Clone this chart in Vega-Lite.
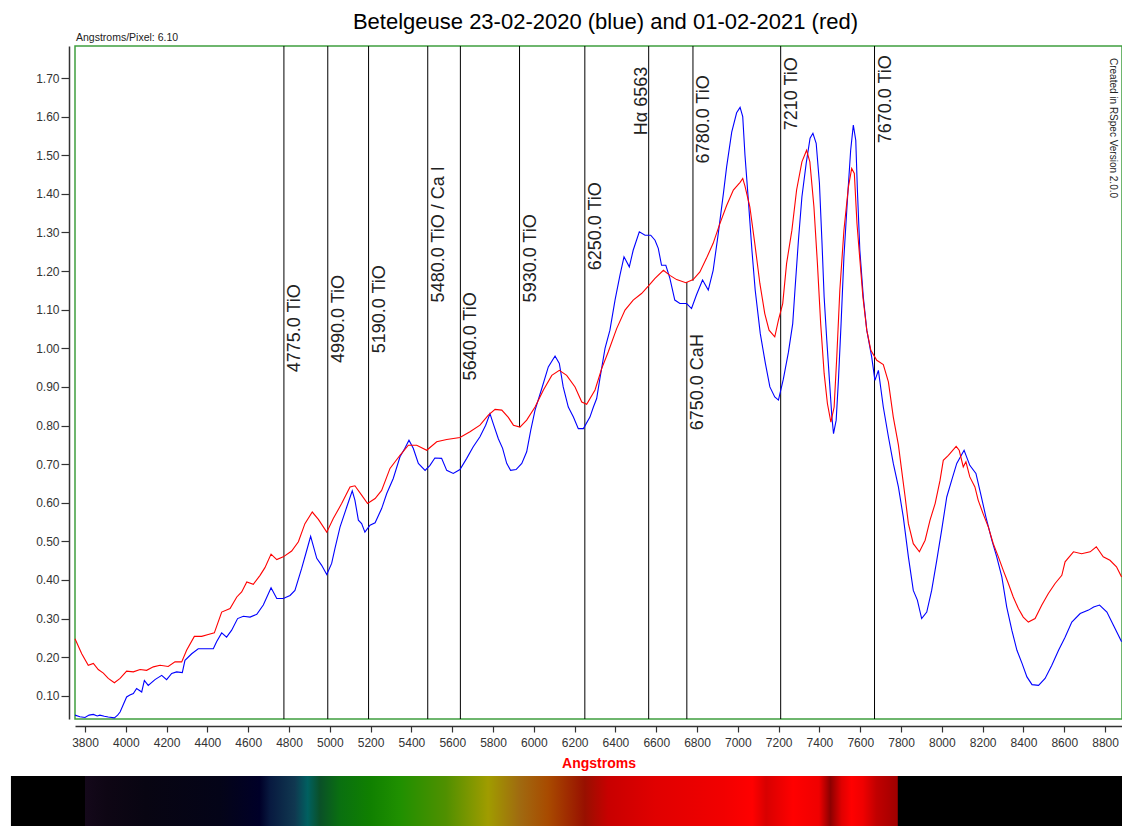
{
  "$schema": "https://vega.github.io/schema/vega-lite/v6.json",
  "width": 1047,
  "height": 673,
  "autosize": {"type": "none"},
  "padding": {"left": 75, "top": 46, "right": 0, "bottom": 107},
  "background": "white",
  "title": {"text": "Betelgeuse 23-02-2020 (blue) and 01-02-2021 (red)", "font": "Liberation Sans", "fontSize": 22, "fontWeight": "normal", "color": "#000000", "anchor": "middle", "baseline": "alphabetic", "offset": 7, "dx": 7, "dy": 25},
  "config": {
    "view": {"stroke": "#3f9f3f", "strokeWidth": 1.5},
    "axis": {"grid": false, "labelFont": "Liberation Sans", "titleFont": "Liberation Sans", "labelColor": "#333333", "tickColor": "#333333", "domainColor": "#333333", "domainWidth": 1.5, "tickWidth": 1.2},
    "axisX": {"offset": 7, "tickSize": 6, "labelFontSize": 12, "labelPadding": 5, "titleColor": "#ff0000", "titleFontWeight": "bold", "titleFontSize": 14, "titlePadding": 8},
    "axisY": {"offset": 6, "tickSize": 8, "labelFontSize": 12, "labelPadding": 2}
  },
  "datasets": {
    "spec": [
      {"s":"2020","w":3751,"v":0.050},{"s":"2020","w":3775,"v":0.046},{"s":"2020","w":3800,"v":0.044},{"s":"2020","w":3820,"v":0.050},{"s":"2020","w":3841,"v":0.052},{"s":"2020","w":3860,"v":0.048},{"s":"2020","w":3873,"v":0.050},{"s":"2020","w":3895,"v":0.047},{"s":"2020","w":3914,"v":0.045},{"s":"2020","w":3944,"v":0.043},{"s":"2020","w":3960,"v":0.050},{"s":"2020","w":3972,"v":0.058},{"s":"2020","w":3990,"v":0.080},{"s":"2020","w":4004,"v":0.097},{"s":"2020","w":4020,"v":0.102},{"s":"2020","w":4037,"v":0.106},{"s":"2020","w":4053,"v":0.119},{"s":"2020","w":4078,"v":0.110},{"s":"2020","w":4091,"v":0.140},{"s":"2020","w":4110,"v":0.127},{"s":"2020","w":4143,"v":0.142},{"s":"2020","w":4176,"v":0.153},{"s":"2020","w":4200,"v":0.142},{"s":"2020","w":4225,"v":0.158},{"s":"2020","w":4249,"v":0.162},{"s":"2020","w":4277,"v":0.160},{"s":"2020","w":4290,"v":0.192},{"s":"2020","w":4323,"v":0.209},{"s":"2020","w":4355,"v":0.222},{"s":"2020","w":4388,"v":0.222},{"s":"2020","w":4429,"v":0.222},{"s":"2020","w":4445,"v":0.240},{"s":"2020","w":4470,"v":0.263},{"s":"2020","w":4494,"v":0.252},{"s":"2020","w":4519,"v":0.270},{"s":"2020","w":4548,"v":0.300},{"s":"2020","w":4576,"v":0.306},{"s":"2020","w":4609,"v":0.304},{"s":"2020","w":4642,"v":0.311},{"s":"2020","w":4674,"v":0.335},{"s":"2020","w":4712,"v":0.380},{"s":"2020","w":4740,"v":0.352},{"s":"2020","w":4772,"v":0.352},{"s":"2020","w":4805,"v":0.360},{"s":"2020","w":4829,"v":0.373},{"s":"2020","w":4862,"v":0.430},{"s":"2020","w":4887,"v":0.477},{"s":"2020","w":4906,"v":0.513},{"s":"2020","w":4936,"v":0.456},{"s":"2020","w":4960,"v":0.438},{"s":"2020","w":4985,"v":0.414},{"s":"2020","w":5009,"v":0.443},{"s":"2020","w":5025,"v":0.481},{"s":"2020","w":5050,"v":0.537},{"s":"2020","w":5083,"v":0.589},{"s":"2020","w":5110,"v":0.631},{"s":"2020","w":5123,"v":0.607},{"s":"2020","w":5140,"v":0.555},{"s":"2020","w":5156,"v":0.546},{"s":"2020","w":5172,"v":0.524},{"s":"2020","w":5197,"v":0.542},{"s":"2020","w":5222,"v":0.548},{"s":"2020","w":5254,"v":0.585},{"s":"2020","w":5279,"v":0.624},{"s":"2020","w":5311,"v":0.663},{"s":"2020","w":5344,"v":0.719},{"s":"2020","w":5368,"v":0.741},{"s":"2020","w":5388,"v":0.762},{"s":"2020","w":5409,"v":0.741},{"s":"2020","w":5434,"v":0.702},{"s":"2020","w":5467,"v":0.684},{"s":"2020","w":5491,"v":0.697},{"s":"2020","w":5515,"v":0.716},{"s":"2020","w":5548,"v":0.715},{"s":"2020","w":5573,"v":0.684},{"s":"2020","w":5605,"v":0.676},{"s":"2020","w":5638,"v":0.686},{"s":"2020","w":5671,"v":0.715},{"s":"2020","w":5703,"v":0.745},{"s":"2020","w":5736,"v":0.771},{"s":"2020","w":5764,"v":0.801},{"s":"2020","w":5785,"v":0.831},{"s":"2020","w":5801,"v":0.805},{"s":"2020","w":5826,"v":0.766},{"s":"2020","w":5847,"v":0.741},{"s":"2020","w":5867,"v":0.702},{"s":"2020","w":5886,"v":0.684},{"s":"2020","w":5913,"v":0.686},{"s":"2020","w":5941,"v":0.702},{"s":"2020","w":5965,"v":0.732},{"s":"2020","w":5985,"v":0.788},{"s":"2020","w":6006,"v":0.840},{"s":"2020","w":6039,"v":0.896},{"s":"2020","w":6071,"v":0.952},{"s":"2020","w":6104,"v":0.980},{"s":"2020","w":6125,"v":0.961},{"s":"2020","w":6144,"v":0.900},{"s":"2020","w":6169,"v":0.848},{"s":"2020","w":6194,"v":0.822},{"s":"2020","w":6218,"v":0.792},{"s":"2020","w":6243,"v":0.792},{"s":"2020","w":6275,"v":0.822},{"s":"2020","w":6292,"v":0.848},{"s":"2020","w":6308,"v":0.870},{"s":"2020","w":6324,"v":0.922},{"s":"2020","w":6349,"v":1.000},{"s":"2020","w":6373,"v":1.047},{"s":"2020","w":6398,"v":1.125},{"s":"2020","w":6422,"v":1.189},{"s":"2020","w":6442,"v":1.237},{"s":"2020","w":6468,"v":1.211},{"s":"2020","w":6487,"v":1.254},{"s":"2020","w":6517,"v":1.302},{"s":"2020","w":6545,"v":1.293},{"s":"2020","w":6573,"v":1.293},{"s":"2020","w":6594,"v":1.280},{"s":"2020","w":6610,"v":1.259},{"s":"2020","w":6626,"v":1.215},{"s":"2020","w":6647,"v":1.215},{"s":"2020","w":6667,"v":1.181},{"s":"2020","w":6691,"v":1.125},{"s":"2020","w":6716,"v":1.116},{"s":"2020","w":6749,"v":1.116},{"s":"2020","w":6773,"v":1.103},{"s":"2020","w":6797,"v":1.138},{"s":"2020","w":6827,"v":1.177},{"s":"2020","w":6855,"v":1.151},{"s":"2020","w":6879,"v":1.202},{"s":"2020","w":6904,"v":1.297},{"s":"2020","w":6929,"v":1.400},{"s":"2020","w":6945,"v":1.470},{"s":"2020","w":6970,"v":1.560},{"s":"2020","w":6994,"v":1.610},{"s":"2020","w":7011,"v":1.624},{"s":"2020","w":7024,"v":1.600},{"s":"2020","w":7035,"v":1.500},{"s":"2020","w":7052,"v":1.380},{"s":"2020","w":7069,"v":1.254},{"s":"2020","w":7085,"v":1.151},{"s":"2020","w":7110,"v":1.038},{"s":"2020","w":7135,"v":0.961},{"s":"2020","w":7157,"v":0.900},{"s":"2020","w":7181,"v":0.874},{"s":"2020","w":7199,"v":0.866},{"s":"2020","w":7223,"v":0.920},{"s":"2020","w":7248,"v":0.990},{"s":"2020","w":7269,"v":1.064},{"s":"2020","w":7280,"v":1.151},{"s":"2020","w":7297,"v":1.280},{"s":"2020","w":7314,"v":1.392},{"s":"2020","w":7335,"v":1.479},{"s":"2020","w":7354,"v":1.544},{"s":"2020","w":7368,"v":1.557},{"s":"2020","w":7384,"v":1.531},{"s":"2020","w":7400,"v":1.427},{"s":"2020","w":7412,"v":1.280},{"s":"2020","w":7423,"v":1.133},{"s":"2020","w":7436,"v":1.021},{"s":"2020","w":7449,"v":0.917},{"s":"2020","w":7461,"v":0.822},{"s":"2020","w":7469,"v":0.779},{"s":"2020","w":7482,"v":0.814},{"s":"2020","w":7493,"v":0.917},{"s":"2020","w":7506,"v":1.064},{"s":"2020","w":7520,"v":1.237},{"s":"2020","w":7537,"v":1.384},{"s":"2020","w":7553,"v":1.513},{"s":"2020","w":7566,"v":1.578},{"s":"2020","w":7578,"v":1.539},{"s":"2020","w":7586,"v":1.410},{"s":"2020","w":7598,"v":1.254},{"s":"2020","w":7615,"v":1.133},{"s":"2020","w":7632,"v":1.047},{"s":"2020","w":7656,"v":0.978},{"s":"2020","w":7672,"v":0.917},{"s":"2020","w":7689,"v":0.943},{"s":"2020","w":7713,"v":0.848},{"s":"2020","w":7738,"v":0.771},{"s":"2020","w":7762,"v":0.702},{"s":"2020","w":7787,"v":0.641},{"s":"2020","w":7811,"v":0.563},{"s":"2020","w":7836,"v":0.460},{"s":"2020","w":7860,"v":0.373},{"s":"2020","w":7880,"v":0.348},{"s":"2020","w":7901,"v":0.300},{"s":"2020","w":7926,"v":0.317},{"s":"2020","w":7950,"v":0.373},{"s":"2020","w":7975,"v":0.451},{"s":"2020","w":7999,"v":0.529},{"s":"2020","w":8024,"v":0.615},{"s":"2020","w":8048,"v":0.658},{"s":"2020","w":8073,"v":0.702},{"s":"2020","w":8109,"v":0.736},{"s":"2020","w":8137,"v":0.697},{"s":"2020","w":8167,"v":0.676},{"s":"2020","w":8190,"v":0.624},{"s":"2020","w":8216,"v":0.563},{"s":"2020","w":8245,"v":0.503},{"s":"2020","w":8269,"v":0.460},{"s":"2020","w":8294,"v":0.408},{"s":"2020","w":8318,"v":0.330},{"s":"2020","w":8343,"v":0.270},{"s":"2020","w":8368,"v":0.218},{"s":"2020","w":8393,"v":0.184},{"s":"2020","w":8417,"v":0.149},{"s":"2020","w":8442,"v":0.129},{"s":"2020","w":8474,"v":0.127},{"s":"2020","w":8506,"v":0.145},{"s":"2020","w":8539,"v":0.179},{"s":"2020","w":8572,"v":0.218},{"s":"2020","w":8604,"v":0.252},{"s":"2020","w":8637,"v":0.291},{"s":"2020","w":8678,"v":0.313},{"s":"2020","w":8719,"v":0.322},{"s":"2020","w":8744,"v":0.330},{"s":"2020","w":8773,"v":0.335},{"s":"2020","w":8809,"v":0.317},{"s":"2020","w":8841,"v":0.283},{"s":"2020","w":8881,"v":0.240},
      {"s":"2021","w":3751,"v":0.248},{"s":"2021","w":3784,"v":0.209},{"s":"2021","w":3816,"v":0.179},{"s":"2021","w":3841,"v":0.184},{"s":"2021","w":3865,"v":0.168},{"s":"2021","w":3890,"v":0.159},{"s":"2021","w":3914,"v":0.145},{"s":"2021","w":3944,"v":0.134},{"s":"2021","w":3972,"v":0.145},{"s":"2021","w":4004,"v":0.164},{"s":"2021","w":4037,"v":0.162},{"s":"2021","w":4070,"v":0.168},{"s":"2021","w":4102,"v":0.166},{"s":"2021","w":4135,"v":0.175},{"s":"2021","w":4168,"v":0.179},{"s":"2021","w":4208,"v":0.176},{"s":"2021","w":4241,"v":0.188},{"s":"2021","w":4274,"v":0.188},{"s":"2021","w":4298,"v":0.218},{"s":"2021","w":4336,"v":0.254},{"s":"2021","w":4372,"v":0.254},{"s":"2021","w":4404,"v":0.259},{"s":"2021","w":4434,"v":0.263},{"s":"2021","w":4470,"v":0.317},{"s":"2021","w":4511,"v":0.326},{"s":"2021","w":4544,"v":0.356},{"s":"2021","w":4568,"v":0.369},{"s":"2021","w":4593,"v":0.395},{"s":"2021","w":4625,"v":0.389},{"s":"2021","w":4658,"v":0.412},{"s":"2021","w":4682,"v":0.432},{"s":"2021","w":4712,"v":0.467},{"s":"2021","w":4740,"v":0.453},{"s":"2021","w":4772,"v":0.460},{"s":"2021","w":4813,"v":0.475},{"s":"2021","w":4846,"v":0.499},{"s":"2021","w":4878,"v":0.546},{"s":"2021","w":4914,"v":0.576},{"s":"2021","w":4944,"v":0.557},{"s":"2021","w":4985,"v":0.524},{"s":"2021","w":5017,"v":0.559},{"s":"2021","w":5058,"v":0.598},{"s":"2021","w":5099,"v":0.641},{"s":"2021","w":5123,"v":0.644},{"s":"2021","w":5156,"v":0.620},{"s":"2021","w":5185,"v":0.598},{"s":"2021","w":5222,"v":0.611},{"s":"2021","w":5254,"v":0.632},{"s":"2021","w":5295,"v":0.689},{"s":"2021","w":5344,"v":0.723},{"s":"2021","w":5385,"v":0.749},{"s":"2021","w":5426,"v":0.749},{"s":"2021","w":5475,"v":0.736},{"s":"2021","w":5524,"v":0.758},{"s":"2021","w":5573,"v":0.764},{"s":"2021","w":5638,"v":0.769},{"s":"2021","w":5687,"v":0.784},{"s":"2021","w":5736,"v":0.801},{"s":"2021","w":5777,"v":0.827},{"s":"2021","w":5810,"v":0.842},{"s":"2021","w":5843,"v":0.840},{"s":"2021","w":5875,"v":0.821},{"s":"2021","w":5900,"v":0.801},{"s":"2021","w":5932,"v":0.796},{"s":"2021","w":5965,"v":0.814},{"s":"2021","w":6006,"v":0.848},{"s":"2021","w":6047,"v":0.892},{"s":"2021","w":6088,"v":0.930},{"s":"2021","w":6125,"v":0.943},{"s":"2021","w":6161,"v":0.930},{"s":"2021","w":6202,"v":0.900},{"s":"2021","w":6235,"v":0.861},{"s":"2021","w":6259,"v":0.855},{"s":"2021","w":6300,"v":0.892},{"s":"2021","w":6333,"v":0.948},{"s":"2021","w":6365,"v":0.991},{"s":"2021","w":6406,"v":1.051},{"s":"2021","w":6447,"v":1.099},{"s":"2021","w":6487,"v":1.125},{"s":"2021","w":6528,"v":1.142},{"s":"2021","w":6561,"v":1.161},{"s":"2021","w":6594,"v":1.181},{"s":"2021","w":6635,"v":1.202},{"s":"2021","w":6667,"v":1.189},{"s":"2021","w":6700,"v":1.178},{"s":"2021","w":6745,"v":1.170},{"s":"2021","w":6781,"v":1.178},{"s":"2021","w":6814,"v":1.198},{"s":"2021","w":6846,"v":1.233},{"s":"2021","w":6879,"v":1.272},{"s":"2021","w":6912,"v":1.323},{"s":"2021","w":6945,"v":1.370},{"s":"2021","w":6978,"v":1.410},{"s":"2021","w":7011,"v":1.430},{"s":"2021","w":7024,"v":1.440},{"s":"2021","w":7035,"v":1.420},{"s":"2021","w":7059,"v":1.366},{"s":"2021","w":7083,"v":1.272},{"s":"2021","w":7108,"v":1.168},{"s":"2021","w":7132,"v":1.090},{"s":"2021","w":7153,"v":1.047},{"s":"2021","w":7181,"v":1.030},{"s":"2021","w":7199,"v":1.073},{"s":"2021","w":7220,"v":1.116},{"s":"2021","w":7239,"v":1.220},{"s":"2021","w":7265,"v":1.306},{"s":"2021","w":7288,"v":1.410},{"s":"2021","w":7314,"v":1.483},{"s":"2021","w":7337,"v":1.513},{"s":"2021","w":7353,"v":1.483},{"s":"2021","w":7373,"v":1.366},{"s":"2021","w":7390,"v":1.220},{"s":"2021","w":7406,"v":1.064},{"s":"2021","w":7423,"v":0.935},{"s":"2021","w":7439,"v":0.857},{"s":"2021","w":7456,"v":0.809},{"s":"2021","w":7472,"v":0.848},{"s":"2021","w":7485,"v":0.978},{"s":"2021","w":7500,"v":1.151},{"s":"2021","w":7520,"v":1.306},{"s":"2021","w":7542,"v":1.418},{"s":"2021","w":7558,"v":1.466},{"s":"2021","w":7571,"v":1.453},{"s":"2021","w":7584,"v":1.323},{"s":"2021","w":7597,"v":1.237},{"s":"2021","w":7613,"v":1.133},{"s":"2021","w":7632,"v":1.047},{"s":"2021","w":7652,"v":0.995},{"s":"2021","w":7681,"v":0.969},{"s":"2021","w":7713,"v":0.958},{"s":"2021","w":7738,"v":0.913},{"s":"2021","w":7762,"v":0.822},{"s":"2021","w":7787,"v":0.750},{"s":"2021","w":7803,"v":0.684},{"s":"2021","w":7820,"v":0.615},{"s":"2021","w":7836,"v":0.546},{"s":"2021","w":7860,"v":0.494},{"s":"2021","w":7890,"v":0.473},{"s":"2021","w":7918,"v":0.503},{"s":"2021","w":7942,"v":0.555},{"s":"2021","w":7967,"v":0.598},{"s":"2021","w":7991,"v":0.658},{"s":"2021","w":8007,"v":0.710},{"s":"2021","w":8032,"v":0.723},{"s":"2021","w":8070,"v":0.746},{"s":"2021","w":8085,"v":0.736},{"s":"2021","w":8105,"v":0.693},{"s":"2021","w":8118,"v":0.706},{"s":"2021","w":8137,"v":0.667},{"s":"2021","w":8162,"v":0.641},{"s":"2021","w":8178,"v":0.607},{"s":"2021","w":8202,"v":0.572},{"s":"2021","w":8228,"v":0.537},{"s":"2021","w":8252,"v":0.494},{"s":"2021","w":8277,"v":0.460},{"s":"2021","w":8301,"v":0.425},{"s":"2021","w":8326,"v":0.391},{"s":"2021","w":8350,"v":0.356},{"s":"2021","w":8375,"v":0.326},{"s":"2021","w":8399,"v":0.304},{"s":"2021","w":8424,"v":0.291},{"s":"2021","w":8457,"v":0.300},{"s":"2021","w":8490,"v":0.335},{"s":"2021","w":8522,"v":0.365},{"s":"2021","w":8555,"v":0.391},{"s":"2021","w":8588,"v":0.412},{"s":"2021","w":8604,"v":0.447},{"s":"2021","w":8645,"v":0.473},{"s":"2021","w":8685,"v":0.468},{"s":"2021","w":8727,"v":0.473},{"s":"2021","w":8757,"v":0.486},{"s":"2021","w":8791,"v":0.460},{"s":"2021","w":8824,"v":0.451},{"s":"2021","w":8856,"v":0.434},{"s":"2021","w":8881,"v":0.408}
    ],
    "lines": [
      {"w":4775,"label":"4775.0 TiO","ly":0.938,"span":"full","end":null},
      {"w":4990,"label":"4990.0 TiO","ly":0.962,"span":"full","end":null},
      {"w":5190,"label":"5190.0 TiO","ly":0.987,"span":"full","end":null},
      {"w":5480,"label":"5480.0 TiO / Ca I","ly":1.119,"span":"full","end":null},
      {"w":5640,"label":"5640.0 TiO","ly":0.917,"span":"full","end":null},
      {"w":5930,"label":"5930.0 TiO","ly":1.119,"span":"upper","end":0.796},
      {"w":6250,"label":"6250.0 TiO","ly":1.202,"span":"full","end":null},
      {"w":6563,"label":"Hα 6563","ly":1.552,"span":"full","end":null},
      {"w":6750,"label":"6750.0 CaH","ly":0.788,"span":"lower","end":1.172},
      {"w":6780,"label":"6780.0 TiO","ly":1.479,"span":"upper","end":1.175},
      {"w":7210,"label":"7210 TiO","ly":1.565,"span":"full","end":null},
      {"w":7670,"label":"7670.0 TiO","ly":1.531,"span":"full","end":null}
    ]
  },
  "layer": [
    {
      "data": {"values": [{"band": "background"}]},
      "mark": {"type": "rect", "fill": "#000000"},
      "encoding": {
        "x": {"datum": 3437, "type": "quantitative", "scale": {"domain": [3751, 8883], "nice": false, "zero": false}, "title": "Angstroms"},
        "x2": {"datum": 8883},
        "y": {"datum": -0.1077, "type": "quantitative", "scale": {"domain": [0.04, 1.783], "nice": false, "zero": false}, "title": null},
        "y2": {"datum": -0.238}
      }
    },
    {
      "data": {"values": [{"band": "visible"}]},
      "mark": {"type": "rect", "fill": {"gradient": "linear", "x1": 0, "y1": 0, "x2": 1, "y2": 0, "stops": [
        {"offset": 0, "color": "#14081a"},
        {"offset": 0.027, "color": "#0e0614"},
        {"offset": 0.075, "color": "#080512"},
        {"offset": 0.166, "color": "#040418"},
        {"offset": 0.215, "color": "#000028"},
        {"offset": 0.228, "color": "#081a40"},
        {"offset": 0.258, "color": "#103850"},
        {"offset": 0.274, "color": "#006060"},
        {"offset": 0.289, "color": "#0a5028"},
        {"offset": 0.314, "color": "#0a7010"},
        {"offset": 0.351, "color": "#108000"},
        {"offset": 0.388, "color": "#209000"},
        {"offset": 0.444, "color": "#509000"},
        {"offset": 0.496, "color": "#a09c00"},
        {"offset": 0.535, "color": "#a06a10"},
        {"offset": 0.570, "color": "#a84a00"},
        {"offset": 0.615, "color": "#981000"},
        {"offset": 0.644, "color": "#c80000"},
        {"offset": 0.701, "color": "#e00000"},
        {"offset": 0.786, "color": "#f20000"},
        {"offset": 0.821, "color": "#ff0000"},
        {"offset": 0.838, "color": "#d80000"},
        {"offset": 0.871, "color": "#ff0000"},
        {"offset": 0.903, "color": "#f00000"},
        {"offset": 0.917, "color": "#8c0000"},
        {"offset": 0.931, "color": "#e00000"},
        {"offset": 0.943, "color": "#ff0000"},
        {"offset": 0.957, "color": "#f00000"},
        {"offset": 0.974, "color": "#c00000"},
        {"offset": 1, "color": "#a00000"}
      ]}},
      "encoding": {
        "x": {"datum": 3800, "type": "quantitative", "scale": {"domain": [3751, 8883], "nice": false, "zero": false}, "title": "Angstroms"},
        "x2": {"datum": 7784},
        "y": {"datum": -0.1077, "type": "quantitative", "scale": {"domain": [0.04, 1.783], "nice": false, "zero": false}, "title": null},
        "y2": {"datum": -0.238}
      }
    },
    {
      "data": {"name": "lines"},
      "transform": [{"filter": "datum.span === 'full'"}],
      "mark": {"type": "rule", "color": "#000000", "strokeWidth": 1},
      "encoding": {
        "x": {"field": "w", "type": "quantitative", "scale": {"domain": [3751, 8883], "nice": false, "zero": false}, "title": "Angstroms"}
      }
    },
    {
      "data": {"name": "lines"},
      "transform": [{"filter": "datum.span === 'upper'"}],
      "mark": {"type": "rule", "color": "#000000", "strokeWidth": 1},
      "encoding": {
        "x": {"field": "w", "type": "quantitative", "scale": {"domain": [3751, 8883], "nice": false, "zero": false}, "title": "Angstroms"},
        "y": {"field": "end", "type": "quantitative", "scale": {"domain": [0.04, 1.783], "nice": false, "zero": false}, "title": null},
        "y2": {"datum": 1.783}
      }
    },
    {
      "data": {"name": "lines"},
      "transform": [{"filter": "datum.span === 'lower'"}],
      "mark": {"type": "rule", "color": "#000000", "strokeWidth": 1},
      "encoding": {
        "x": {"field": "w", "type": "quantitative", "scale": {"domain": [3751, 8883], "nice": false, "zero": false}, "title": "Angstroms"},
        "y": {"field": "end", "type": "quantitative", "scale": {"domain": [0.04, 1.783], "nice": false, "zero": false}, "title": null},
        "y2": {"datum": 0.04}
      }
    },
    {
      "data": {"name": "spec"},
      "mark": {"type": "line", "strokeWidth": 1.1, "interpolate": "linear"},
      "encoding": {
        "x": {"field": "w", "type": "quantitative", "scale": {"domain": [3751, 8883], "nice": false, "zero": false}, "title": "Angstroms",
              "axis": {"values": [3800,4000,4200,4400,4600,4800,5000,5200,5400,5600,5800,6000,6200,6400,6600,6800,7000,7200,7400,7600,7800,8000,8200,8400,8600,8800], "format": "d"}},
        "y": {"field": "v", "type": "quantitative", "scale": {"domain": [0.04, 1.783], "nice": false, "zero": false}, "title": null,
              "axis": {"values": [0.1,0.2,0.3,0.4,0.5,0.6,0.7,0.8,0.9,1.0,1.1,1.2,1.3,1.4,1.5,1.6,1.7], "format": ".2f"}},
        "color": {"field": "s", "type": "nominal", "scale": {"domain": ["2020", "2021"], "range": ["#0000ff", "#ff0000"]}, "legend": null}
      }
    },
    {
      "data": {"name": "lines"},
      "transform": [{"filter": "datum.w !== 6563"}],
      "mark": {"type": "text", "angle": 270, "align": "left", "baseline": "top", "dy": 2, "font": "Liberation Sans", "fontSize": 18, "color": "#222222"},
      "encoding": {
        "x": {"field": "w", "type": "quantitative", "scale": {"domain": [3751, 8883], "nice": false, "zero": false}, "title": "Angstroms"},
        "y": {"field": "ly", "type": "quantitative", "scale": {"domain": [0.04, 1.783], "nice": false, "zero": false}, "title": null},
        "text": {"field": "label"}
      }
    },
    {
      "data": {"name": "lines"},
      "transform": [{"filter": "datum.w === 6563"}],
      "mark": {"type": "text", "angle": 270, "align": "left", "baseline": "alphabetic", "dy": -2, "font": "Liberation Sans", "fontSize": 18, "color": "#222222"},
      "encoding": {
        "x": {"field": "w", "type": "quantitative", "scale": {"domain": [3751, 8883], "nice": false, "zero": false}, "title": "Angstroms"},
        "y": {"field": "ly", "type": "quantitative", "scale": {"domain": [0.04, 1.783], "nice": false, "zero": false}, "title": null},
        "text": {"field": "label"}
      }
    },
    {
      "data": {"values": [{"note": "Angstroms/Pixel: 6.10"}]},
      "mark": {"type": "text", "align": "left", "baseline": "alphabetic", "dx": 1, "dy": -5, "font": "Liberation Sans", "fontSize": 10.5, "color": "#222222"},
      "encoding": {
        "x": {"datum": 3751, "type": "quantitative", "scale": {"domain": [3751, 8883], "nice": false, "zero": false}, "title": "Angstroms"},
        "y": {"datum": 1.783, "type": "quantitative", "scale": {"domain": [0.04, 1.783], "nice": false, "zero": false}, "title": null},
        "text": {"field": "note"}
      }
    },
    {
      "data": {"values": [{"note": "Created in RSpec Version 2.0.0"}]},
      "mark": {"type": "text", "angle": 90, "align": "left", "baseline": "top", "font": "Liberation Sans", "fontSize": 10, "color": "#222222"},
      "encoding": {
        "x": {"datum": 8864, "type": "quantitative", "scale": {"domain": [3751, 8883], "nice": false, "zero": false}, "title": "Angstroms"},
        "y": {"datum": 1.752, "type": "quantitative", "scale": {"domain": [0.04, 1.783], "nice": false, "zero": false}, "title": null},
        "text": {"field": "note"}
      }
    }
  ]
}
